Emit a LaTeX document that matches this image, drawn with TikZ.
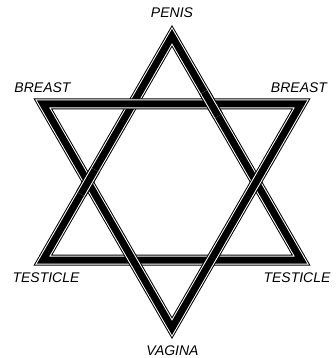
\documentclass[tikz,border=0pt]{standalone}
\usepackage{fontspec}
\setmainfont{Liberation Sans}
\usetikzlibrary{calc}
\newcommand\mybandpath[1]{%
  \draw[bandA] #1;
  \draw[bandB] #1;
  \draw[bandC] #1;}
\begin{document}
\begin{tikzpicture}[x=1pt,y=-1pt,
  bandA/.style={line width=11pt,black,line join=miter},
  bandB/.style={line width=9pt,white,line join=miter},
  bandC/.style={line width=7pt,black,line join=miter},
  lbl/.style={font=\fontsize{14}{14}\selectfont\itshape,inner sep=0pt,text=black}]
\fill[white] (0,0) rectangle (336,358);
\useasboundingbox (0,0) rectangle (336,358);
% up triangle
\coordinate (A) at (172,36);
\coordinate (B) at (43,260);
\coordinate (C) at (301,260);
% down triangle
\coordinate (D) at (43,104);
\coordinate (E) at (301,104);
\coordinate (F) at (172,328);
\mybandpath{(A)--(B)--(C)--cycle}
\mybandpath{(D)--(E)--(F)--cycle}
% crossings where the up triangle lies over
\coordinate (X2) at ($(A)!0.3036!(C)$);
\coordinate (X3) at ($(A)!0.6518!(B)$);
\mybandpath{($(X2)!14pt!(A)$)--($(X2)!14pt!(C)$)}
\mybandpath{($(X3)!14pt!(A)$)--($(X3)!14pt!(B)$)}
% labels
\node[lbl] (penis) at (172,13) {PENIS};
\node[lbl] (breastL) at (42.5,87.5) {BREAST};
\node[lbl] (breastR) at (299,87.5) {BREAST};
\node[lbl] (testL) at (46,277.5) {TESTICLE};
\node[lbl] (testR) at (297,277.5) {TESTICLE};
\node[lbl] (vagina) at (172.5,351) {VAGINA};
\end{tikzpicture}
\end{document}
